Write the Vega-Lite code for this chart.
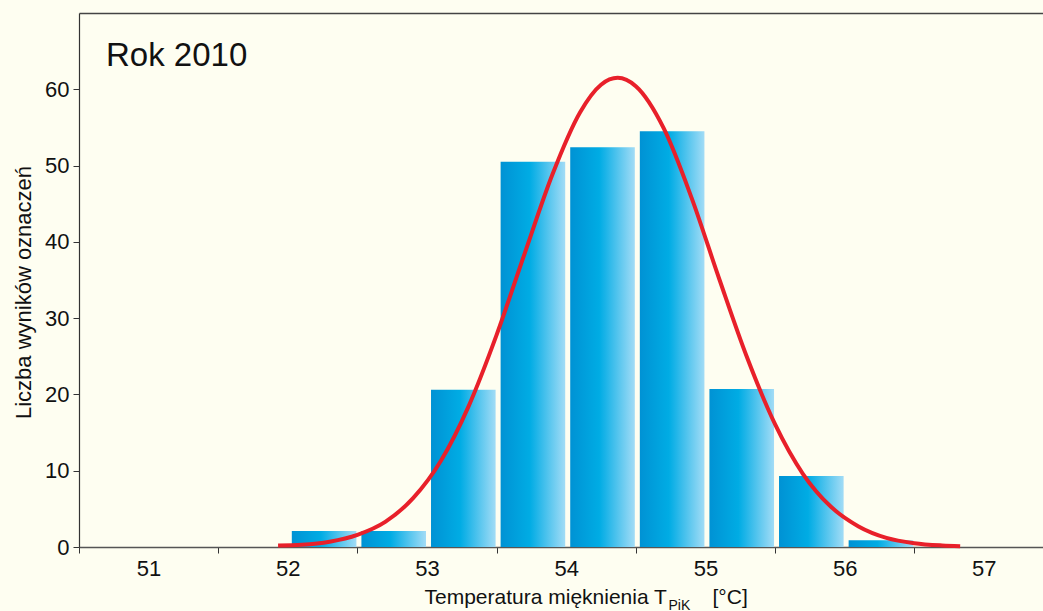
{
  "$schema": "https://vega.github.io/schema/vega-lite/v6.json",
  "width": 964,
  "height": 534,
  "autosize": {"type": "none"},
  "padding": {"left": 79, "top": 13, "right": 0, "bottom": 64},
  "background": "#fefef1",
  "config": {
    "view": {"stroke": null},
    "font": "Liberation Sans",
    "axis": {"grid": false, "labelColor": "#111", "titleColor": "#111", "titleFontWeight": "normal"}
  },
  "title": {
    "text": "Rok 2010",
    "anchor": "start",
    "frame": "group",
    "fontSize": 33,
    "fontWeight": "normal",
    "color": "#111",
    "baseline": "alphabetic",
    "offset": -86,
    "dx": 27
  },
  "layer": [
    {
      "data": {
        "values": [
          {"od": 52.0, "do": 52.5, "liczba": 2.1},
          {"od": 52.5, "do": 53.0, "liczba": 2.1},
          {"od": 53.0, "do": 53.5, "liczba": 20.6},
          {"od": 53.5, "do": 54.0, "liczba": 50.5},
          {"od": 54.0, "do": 54.5, "liczba": 52.4},
          {"od": 54.5, "do": 55.0, "liczba": 54.5},
          {"od": 55.0, "do": 55.5, "liczba": 20.7},
          {"od": 55.5, "do": 56.0, "liczba": 9.3},
          {"od": 56.0, "do": 56.5, "liczba": 0.9}
        ]
      },
      "mark": {
        "type": "bar",
        "xOffset": 4,
        "x2Offset": -1,
        "color": {
          "gradient": "linear",
          "x1": 0, "y1": 0, "x2": 1, "y2": 0,
          "stops": [
            {"offset": 0, "color": "#0092d4"},
            {"offset": 0.45, "color": "#00ace4"},
            {"offset": 0.55, "color": "#1cb4e8"},
            {"offset": 1, "color": "#a2dcf6"}
          ]
        }
      },
      "encoding": {
        "x": {
          "field": "od",
          "type": "quantitative",
          "scale": {"domain": [50.5, 57.425], "nice": false, "zero": false},
          "axis": {
            "orient": "bottom",
            "values": [51, 52, 53, 54, 55, 56, 57],
            "format": "d",
            "tickOffset": -69.6,
            "labelOffset": 69.6,
            "tickSize": 6,
            "tickColor": "#333",
            "domainColor": "#555",
            "domainWidth": 1.5,
            "labelFontSize": 22,
            "labelPadding": 5,
            "labelFlush": false,
            "title": "Temperatura mięknienia T",
            "titleFontSize": 21,
            "titleX": 345,
            "titleY": 56,
            "titleAlign": "left",
            "titleBaseline": "alphabetic"
          }
        },
        "x2": {"field": "do"},
        "y": {
          "field": "liczba",
          "type": "quantitative",
          "scale": {"domain": [0, 70], "nice": false},
          "axis": {
            "values": [0, 10, 20, 30, 40, 50, 60],
            "tickSize": 6,
            "tickColor": "#333",
            "domainColor": "#333",
            "domainWidth": 1.2,
            "labelFontSize": 22,
            "labelPadding": 4,
            "title": "Liczba wyników oznaczeń",
            "titleFontSize": 22,
            "titleX": -49,
            "titleY": 279,
            "titleAlign": "center",
            "titleBaseline": "alphabetic",
            "titleAngle": -90
          }
        },
        "y2": {"datum": 0}
      }
    },
    {
      "data": {"name": "krzywa"},
      "mark": {"type": "line", "interpolate": "monotone", "color": "#e8202a", "strokeWidth": 4},
      "encoding": {
        "x": {
          "field": "t",
          "type": "quantitative",
          "axis": {
            "orient": "top",
            "labels": false,
            "ticks": false,
            "domainColor": "#444",
            "domainWidth": 1.5,
            "title": "PiK",
            "titleFontSize": 14,
            "titleX": 589,
            "titleY": 596,
            "titleAlign": "left",
            "titleBaseline": "alphabetic"
          }
        },
        "y": {"field": "n", "type": "quantitative", "title": "Liczba wyników oznaczeń"}
      }
    },
    {
      "data": {"name": "krzywa"},
      "mark": {"type": "line", "interpolate": "monotone", "strokeOpacity": 0},
      "encoding": {
        "x": {
          "field": "t",
          "type": "quantitative",
          "axis": {
            "orient": "bottom",
            "labels": false,
            "ticks": false,
            "domain": false,
            "title": "[°C]",
            "titleFontSize": 21,
            "titleX": 633,
            "titleY": 56,
            "titleAlign": "left",
            "titleBaseline": "alphabetic"
          }
        },
        "y": {"field": "n", "type": "quantitative", "title": "Liczba wyników oznaczeń"}
      }
    }
  ],
  "datasets": {
    "krzywa": [
      {"t": 51.93, "n": 0.2},
      {"t": 52.1, "n": 0.3},
      {"t": 52.3, "n": 0.7},
      {"t": 52.5, "n": 1.6},
      {"t": 52.7, "n": 3.3},
      {"t": 52.9, "n": 6.4},
      {"t": 53.1, "n": 11.3},
      {"t": 53.3, "n": 18.5},
      {"t": 53.5, "n": 27.8},
      {"t": 53.7, "n": 38.4},
      {"t": 53.9, "n": 48.8},
      {"t": 54.1, "n": 57.0},
      {"t": 54.25, "n": 60.6},
      {"t": 54.37, "n": 61.5},
      {"t": 54.5, "n": 60.4},
      {"t": 54.7, "n": 54.9},
      {"t": 54.9, "n": 45.8},
      {"t": 55.1, "n": 35.1},
      {"t": 55.3, "n": 24.8},
      {"t": 55.5, "n": 16.1},
      {"t": 55.7, "n": 9.6},
      {"t": 55.9, "n": 5.3},
      {"t": 56.1, "n": 2.7},
      {"t": 56.3, "n": 1.2},
      {"t": 56.5, "n": 0.5},
      {"t": 56.7, "n": 0.2},
      {"t": 56.83, "n": 0.1}
    ]
  },
  "resolve": {"axis": {"x": "independent"}}
}
